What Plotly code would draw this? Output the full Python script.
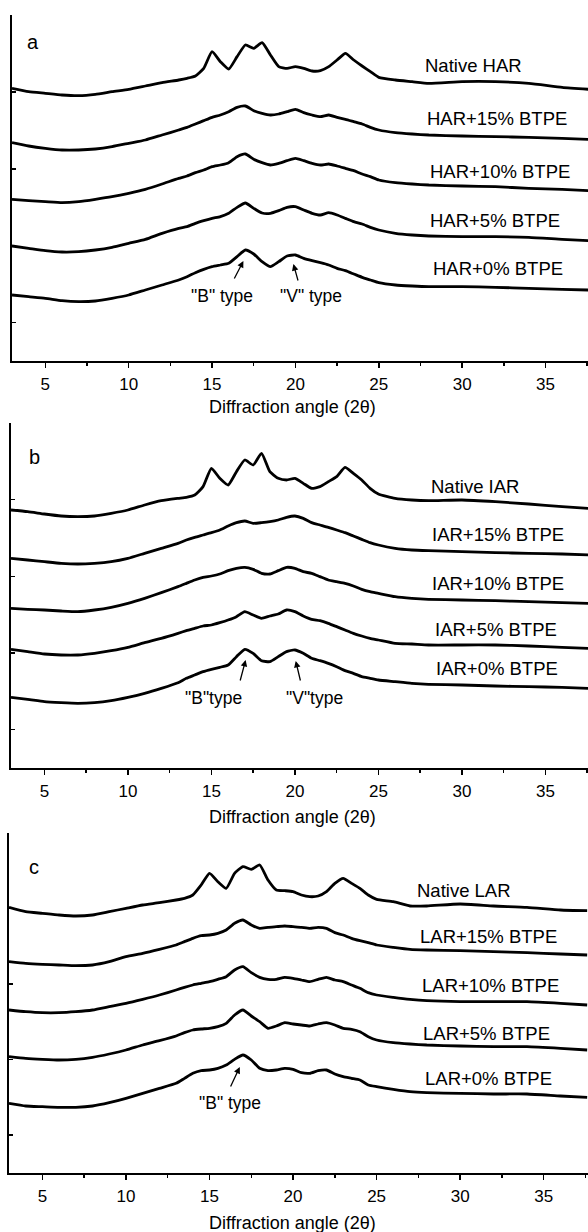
import plotly.graph_objects as go

# ---------------- data (diffraction angle 2theta, stacked intensities, a.u.) ----------------
ANGLE = [3, 4, 5, 6, 7, 8, 9, 10, 11, 12, 13, 13.5, 14, 14.5, 15, 15.5, 16, 16.5, 17, 17.5,
         18, 18.5, 19, 19.5, 20, 20.5, 21, 21.5, 22, 22.5, 23, 23.5, 24, 24.5, 25, 26, 27, 28,
         30, 32, 34, 36, 37.6]

# panel a
HAR_NATIVE = [818, 808, 803, 798, 796, 800, 808, 815, 825, 835, 843, 848, 855, 878, 928, 898, 876, 913, 948, 938,
              955, 918, 883, 878, 883, 878, 870, 871, 883, 903, 923, 903, 885, 868, 851, 843, 838, 833,
              838, 838, 833, 821, 815]
HAR_15 = [655, 645, 638, 633, 633, 636, 643, 653, 663, 678, 693, 701, 711, 721, 731, 738, 748, 761, 765, 751,
          743, 738, 741, 748, 755, 745, 738, 733, 738, 731, 725, 718, 711, 701, 693, 685, 681, 678,
          675, 673, 671, 668, 665]
HAR_10 = [485, 481, 478, 475, 478, 485, 493, 503, 515, 531, 548, 555, 565, 573, 583, 588, 595, 613, 621, 605,
          595, 588, 593, 601, 608, 601, 593, 588, 591, 585, 578, 571, 561, 553, 543, 535, 531, 528,
          525, 523, 518, 515, 511]
HAR_5 = [345, 338, 331, 327, 328, 333, 341, 353, 365, 383, 398, 403, 413, 421, 428, 433, 443, 461, 474, 458,
         444, 443, 451, 461, 463, 453, 443, 438, 445, 438, 428, 418, 411, 401, 393, 383, 378, 375,
         373, 373, 371, 365, 361]
HAR_0 = [198, 193, 188, 181, 178, 180, 188, 198, 213, 228, 243, 253, 265, 275, 283, 288, 293, 313, 333, 321,
         298, 283, 298, 315, 318, 308, 301, 295, 288, 278, 271, 261, 251, 243, 235, 228, 225, 223,
         223, 221, 218, 215, 213]

# panel b
IAR_NATIVE = [774, 769, 762, 756, 754, 756, 764, 774, 789, 802, 809, 812, 819, 844, 899, 869, 849, 889, 924, 909,
              944, 889, 869, 864, 869, 854, 839, 844, 859, 874, 902, 884, 864, 839, 822, 809, 804, 802,
              804, 799, 792, 784, 779]
IAR_15 = [629, 624, 619, 614, 612, 614, 619, 629, 644, 659, 674, 684, 692, 699, 706, 714, 726, 736, 741, 734,
          736, 739, 744, 752, 756, 749, 736, 729, 722, 714, 706, 696, 686, 676, 669, 659, 654, 652,
          649, 646, 644, 642, 639]
IAR_10 = [479, 476, 474, 471, 469, 474, 482, 494, 509, 526, 544, 554, 564, 572, 576, 582, 592, 599, 602, 596,
          584, 582, 592, 602, 599, 589, 584, 574, 564, 559, 554, 546, 536, 529, 524, 514, 509, 506,
          504, 502, 499, 496, 494]
IAR_5 = [356, 349, 342, 339, 339, 344, 352, 362, 376, 389, 404, 412, 419, 426, 429, 436, 444, 454, 469, 459,
         449, 456, 462, 474, 469, 456, 446, 442, 434, 424, 414, 404, 396, 389, 384, 374, 372, 369,
         369, 369, 366, 362, 359]
IAR_0 = [212, 206, 199, 196, 194, 196, 202, 212, 224, 239, 256, 269, 279, 289, 296, 302, 309, 334, 356, 344,
         322, 319, 334, 349, 354, 344, 329, 322, 314, 304, 292, 284, 274, 269, 264, 259, 254, 251,
         249, 246, 244, 242, 239]

# panel c
LAR_NATIVE = [797, 784, 779, 774, 771, 774, 784, 794, 804, 811, 819, 824, 834, 864, 899, 874, 854, 899, 919, 911,
              924, 879, 849, 847, 844, 834, 829, 831, 844, 869, 884, 869, 854, 834, 821, 814, 801, 801,
              807, 801, 797, 789, 787]
LAR_15 = [634, 629, 626, 624, 622, 624, 634, 649, 659, 671, 684, 694, 704, 712, 714, 719, 729, 749, 759, 744,
          734, 737, 739, 741, 739, 737, 734, 737, 734, 721, 714, 704, 697, 691, 684, 677, 671, 669,
          667, 664, 661, 657, 654]
LAR_10 = [489, 484, 481, 481, 484, 489, 499, 509, 521, 534, 549, 557, 564, 569, 574, 581, 589, 609, 619, 601,
          587, 581, 581, 587, 584, 579, 574, 581, 587, 579, 574, 564, 554, 541, 534, 527, 521, 517,
          514, 514, 514, 509, 504]
LAR_5 = [349, 344, 341, 339, 341, 347, 357, 369, 384, 397, 411, 421, 429, 432, 434, 439, 449, 474, 489, 471,
         454, 434, 441, 451, 447, 444, 441, 447, 451, 444, 434, 431, 424, 409, 399, 391, 387, 384,
         381, 379, 379, 374, 369]
LAR_0 = [209, 201, 199, 197, 197, 201, 211, 224, 239, 254, 269, 284, 299, 307, 309, 314, 324, 341, 354, 339,
         314, 307, 309, 314, 311, 301, 299, 307, 309, 297, 289, 284, 279, 264, 259, 251, 244, 241,
         239, 237, 237, 231, 227]

TICK_VALUES = [5, 10, 15, 20, 25, 30, 35]
MINOR_TICKS = [7.5, 12.5, 17.5, 22.5, 27.5, 32.5, 37.5]
X_TITLE = "Diffraction angle (2θ)"

LABELS_A = ["Native HAR", "HAR+15% BTPE", "HAR+10% BTPE", "HAR+5% BTPE", "HAR+0% BTPE"]
LABELS_B = ["Native IAR", "IAR+15% BTPE", "IAR+10% BTPE", "IAR+5% BTPE", "IAR+0% BTPE"]
LABELS_C = ["Native LAR", "LAR+15% BTPE", "LAR+10% BTPE", "LAR+5% BTPE", "LAR+0% BTPE"]

# --------------------------------- figure ---------------------------------
FONT = "Liberation Sans, Arial, Helvetica, sans-serif"
W, H = 588, 1232

panels = [
    dict(letter="a", series=[HAR_NATIVE, HAR_15, HAR_10, HAR_5, HAR_0], labels=LABELS_A,
         label_pos=[(30.67, 888), (32.08, 729), (32.26, 570), (31.96, 423), (32.14, 279)],
         letter_pos=(4.28, 957), ymax=1038, xmax=37.55, left=12, top=15, bottom=361, title_y=407,
         notes=[("\"B\" type", 15.62, 195, 16.29, 243, 16.88, 300),
                ("\"V\" type", 20.96, 195, 20.18, 237, 19.88, 291)]),
    dict(letter="b", series=[IAR_NATIVE, IAR_15, IAR_10, IAR_5, IAR_0], labels=LABELS_B,
         label_pos=[(30.77, 846), (32.17, 702), (32.17, 555), (32.05, 417), (32.11, 300)],
         letter_pos=(4.42, 933), ymax=1035, xmax=37.55, left=11, top=423, bottom=768, title_y=817,
         notes=[("\"B\"type", 15.1, 210, 16.7, 258, 17.05, 324),
                ("\"V\"type", 21.18, 210, 20.35, 258, 20.05, 321)]),
    dict(letter="c", series=[LAR_NATIVE, LAR_15, LAR_10, LAR_5, LAR_0], labels=LABELS_C,
         label_pos=[(30.23, 849), (31.69, 711), (31.84, 564), (31.57, 420), (31.69, 285)],
         letter_pos=(4.48, 918), ymax=1020, xmax=37.65, left=9, top=833, bottom=1173, title_y=1223,
         notes=[("\"B\" type", 16.22, 210, 16.22, 255, 16.81, 318)]),
]

fig = go.Figure()
annotations = []
layout_axes = {}

for i, p in enumerate(panels, start=1):
    xa = "x" if i == 1 else f"x{i}"
    ya = "y" if i == 1 else f"y{i}"
    for s in p["series"]:
        fig.add_trace(go.Scatter(
            x=ANGLE, y=s, mode="lines", xaxis=xa, yaxis=ya, showlegend=False, hoverinfo="skip",
            line=dict(color="black", width=2.8, shape="spline", smoothing=0.5)))

    ymax = p["ymax"]
    layout_axes["xaxis" if i == 1 else f"xaxis{i}"] = dict(
        domain=[p["left"] / W, 1], range=[3, p["xmax"]], anchor=ya,
        showline=True, linewidth=2, linecolor="black", mirror=False,
        ticks="outside", ticklen=5, tickwidth=1.5, tickcolor="black",
        tickvals=TICK_VALUES, ticklabelstandoff=2,
        minor=dict(tickvals=MINOR_TICKS, ticks="outside", ticklen=3, tickwidth=1.5, tickcolor="black"),
        showgrid=False, zeroline=False,
        tickfont=dict(family=FONT, size=17, color="black"))
    layout_axes["yaxis" if i == 1 else f"yaxis{i}"] = dict(
        domain=[1 - p["bottom"] / H, 1 - p["top"] / H], range=[0, ymax], anchor=xa,
        showline=True, linewidth=2, linecolor="black",
        ticks="inside", ticklen=4, tickwidth=1.5, tickcolor="black",
        tickvals=[ymax * k / 9 for k in (1, 3, 5, 7, 9)], showticklabels=False,
        showgrid=False, zeroline=False)

    for text, (lx, ly) in zip(p["labels"], p["label_pos"]):
        annotations.append(dict(text=text, x=lx, y=ly, xref=xa, yref=ya, showarrow=False,
                                xanchor="center", yanchor="middle",
                                font=dict(family=FONT, size=18.5, color="black")))
    annotations.append(dict(text=p["letter"], x=p["letter_pos"][0], y=p["letter_pos"][1], xref=xa, yref=ya,
                            showarrow=False, xanchor="center", yanchor="middle",
                            font=dict(family=FONT, size=20, color="black")))
    for text, tx, ty, ax0, ay0, hx, hy in p["notes"]:
        annotations.append(dict(text=text, x=tx, y=ty, xref=xa, yref=ya, showarrow=False,
                                xanchor="center", yanchor="middle",
                                font=dict(family=FONT, size=17.5, color="black")))
        annotations.append(dict(text="", x=hx, y=hy, ax=ax0, ay=ay0, xref=xa, yref=ya,
                                axref=xa, ayref=ya, showarrow=True, arrowhead=2, arrowsize=1,
                                arrowwidth=1.3, arrowcolor="black"))
    annotations.append(dict(text=X_TITLE, x=292.5 / W, y=1 - p["title_y"] / H, xref="paper", yref="paper",
                            showarrow=False, xanchor="center", yanchor="middle",
                            font=dict(family=FONT, size=18, color="black")))

fig.update_layout(
    width=W, height=H, margin=dict(l=0, r=0, t=0, b=0),
    paper_bgcolor="white", plot_bgcolor="white",
    annotations=annotations, **layout_axes)

fig.write_html(
    "out.html",
    config={"displayModeBar": False, "staticPlot": True},
    post_script="document.body.style.margin='0';document.body.style.padding='0';"
                "document.body.style.overflow='hidden';document.documentElement.style.overflow='hidden';")
